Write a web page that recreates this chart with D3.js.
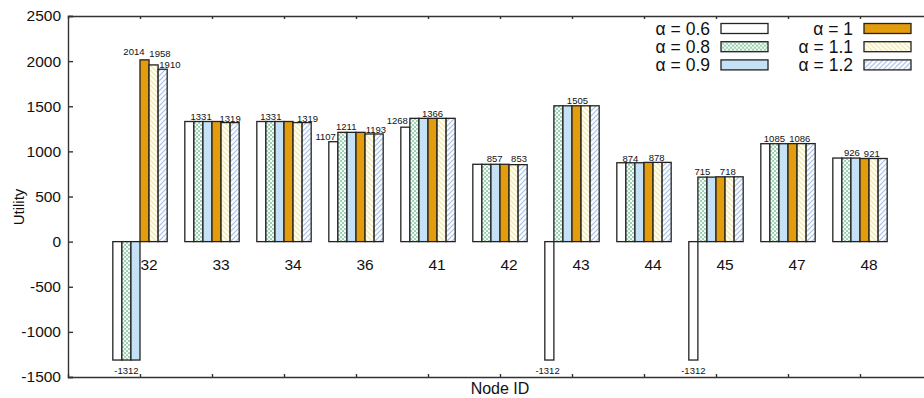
<!DOCTYPE html>
<html>
<head>
<meta charset="utf-8">
<script src="https://cdn.jsdelivr.net/npm/d3@7"></script>
<style>
  body { margin: 0; background: #fff; }
  text { font-family: "Liberation Sans", Arial, sans-serif; fill: #111; }
</style>
</head>
<body>
<svg id="chart" width="924" height="398"></svg>
<script>
const nodes = ["32", "33", "34", "36", "41", "42", "43", "44", "45", "47", "48"];
const alphas = ["0.6", "0.8", "0.9", "1", "1.1", "1.2"];

// utility per node, one array per alpha
const a06 = [-1312, 1331, 1331, 1107, 1268, 857, -1312, 874, -1312, 1085, 926];
const a08 = [-1312, 1331, 1331, 1211, 1366, 857, 1505, 874, 715, 1085, 926];
const a09 = [-1312, 1331, 1331, 1211, 1366, 857, 1505, 874, 715, 1085, 926];
const a10 = [2014, 1331, 1331, 1211, 1366, 857, 1505, 878, 718, 1086, 921];
const a11 = [1958, 1319, 1319, 1193, 1366, 853, 1505, 878, 718, 1086, 921];
const a12 = [1910, 1319, 1319, 1193, 1366, 853, 1505, 878, 718, 1086, 921];
const series = [a06, a08, a09, a10, a11, a12];

const yTicks = [-1500, -1000, -500, 0, 500, 1000, 1500, 2000, 2500];

// value labels: node index, bar slot it sits over, value, lift (data units)
const labelNode = [0, 0, 0, 0, 1, 1, 2, 2, 3, 3, 3, 4, 4, 5, 5, 6, 6, 7, 7, 8, 8, 8, 9, 9, 10, 10];
const labelSlot = [1, 1.83, 4.7, 5.8, 1.3, 4.5, 1.05, 5.1, -0.85, 1.42, 4.7, -0.9, 3.0, 1.9, 4.6, -0.2, 3.1, 1.0, 3.9, 0, 1.0, 3.8, 1.0, 3.8, 1.6, 3.8];
const labelValue = [-1312, 2014, 1958, 1910, 1331, 1319, 1331, 1319, 1107, 1211, 1193, 1268, 1366, 857, 853, -1312, 1505, 874, 878, -1312, 715, 718, 1085, 1086, 926, 921];
const labelLift = [-155, 53, 92, 14, 13, 7, 13, 7, 23, 30, 15, 40, 15, 24, 28, -155, 25, 7, 13, -155, 18, 15, 20, 20, 20, 20];

const width = 924, height = 398;
const margin = {top: 16, right: -8, bottom: 21, left: 68};

const svg = d3.select("#chart");

// fill patterns
const defs = svg.append("defs");
const p08 = defs.append("pattern").attr("id", "p08").attr("patternUnits", "userSpaceOnUse")
    .attr("width", 4).attr("height", 4);
p08.append("rect").attr("width", 4).attr("height", 4).attr("fill", "#f4faf6");
p08.append("rect").attr("width", 2).attr("height", 2).attr("fill", "#9fd2b4");
p08.append("rect").attr("x", 2).attr("y", 2).attr("width", 2).attr("height", 2).attr("fill", "#9fd2b4");

const p11 = defs.append("pattern").attr("id", "p11").attr("patternUnits", "userSpaceOnUse")
    .attr("width", 5).attr("height", 5);
p11.append("rect").attr("width", 5).attr("height", 5).attr("fill", "#fffef4");
p11.append("path").attr("d", "M-1,-1L6,6M-1,4L1,6M4,-1L6,1").attr("stroke", "#f1e7a4").attr("stroke-width", 1.2);

const p12 = defs.append("pattern").attr("id", "p12").attr("patternUnits", "userSpaceOnUse")
    .attr("width", 5).attr("height", 5);
p12.append("rect").attr("width", 5).attr("height", 5).attr("fill", "#fbfcff");
p12.append("path").attr("d", "M-1,6L6,-1M-1,1L1,-1M4,6L6,4").attr("stroke", "#a9c1e6").attr("stroke-width", 1.2);

const fills = ["#ffffff", "url(#p08)", "#c4e1f5", "#e39c0c", "url(#p11)", "url(#p12)"];

const x = d3.scaleLinear()
    .domain([-1, 11])
    .range([margin.left, width - margin.right]);

const y = d3.scaleLinear()
    .domain([-1500, 2500])
    .range([height - margin.bottom, margin.top]);

const groupW = x(0.755) - x(0);
const x1 = d3.scaleBand()
    .domain(d3.range(alphas.length))
    .range([-groupW / 2, groupW / 2]);

// bars
svg.append("g")
    .selectAll("g")
    .data(nodes)
    .join("g")
    .attr("transform", (d, i) => `translate(${x(i)},0)`)
    .selectAll("rect")
    .data((d, i) => series.map((s, k) => ({k, value: s[i]})))
    .join("rect")
    .attr("x", d => x1(d.k))
    .attr("y", d => y(Math.max(0, d.value)))
    .attr("width", x1.bandwidth())
    .attr("height", d => Math.abs(y(d.value) - y(0)))
    .attr("fill", d => fills[d.k])
    .attr("stroke", "#222")
    .attr("stroke-width", 1.3);

// value labels
svg.append("g")
    .selectAll("text")
    .data(labelValue)
    .join("text")
    .attr("x", (d, i) => x(labelNode[i]) + x1(0) + x1.bandwidth() * (labelSlot[i] + 0.5))
    .attr("y", (d, i) => y(d + labelLift[i]))
    .attr("text-anchor", "middle")
    .attr("font-size", 9.5)
    .text(d => d);

// node labels
svg.append("g")
    .selectAll("text")
    .data(nodes)
    .join("text")
    .attr("x", (d, i) => x(i) + 9)
    .attr("y", y(0) + 28)
    .attr("text-anchor", "middle")
    .attr("font-size", 15.5)
    .text(d => d);

// axes
const yAxis = g => g
    .attr("transform", `translate(${margin.left},0)`)
    .call(d3.axisLeft(y).tickValues(yTicks).tickSize(-5).tickPadding(7).tickFormat(d => String(d)))
    .call(g => g.selectAll(".tick text").attr("font-size", 15.5).attr("fill", "#111")
        .attr("font-family", "Liberation Sans, Arial, sans-serif"))
    .call(g => g.selectAll("line, path").attr("stroke", "#333").attr("stroke-width", 1.4));

const xAxis = g => g
    .attr("transform", `translate(0,${height - margin.bottom})`)
    .call(d3.axisBottom(x).tickValues(d3.range(nodes.length)).tickSize(-3).tickFormat(""))
    .call(g => g.selectAll("line, path").attr("stroke", "#333").attr("stroke-width", 1.4));

const xTop = g => g
    .attr("transform", `translate(0,${margin.top})`)
    .call(d3.axisTop(x).tickValues(d3.range(nodes.length)).tickSize(-3).tickFormat(""))
    .call(g => g.selectAll("line, path").attr("stroke", "#333").attr("stroke-width", 1.4));

svg.append("g").call(xAxis);
svg.append("g").call(xTop);
svg.append("g").call(yAxis);

svg.append("text")
    .attr("transform", `translate(24,207) rotate(-90)`)
    .attr("text-anchor", "middle")
    .attr("font-size", 15)
    .text("Utility");

svg.append("text")
    .attr("x", 500)
    .attr("y", 394)
    .attr("text-anchor", "middle")
    .attr("font-size", 16)
    .text("Node ID");

// legend
const legend = svg.append("g");
const legItems = legend.selectAll("g")
    .data(alphas)
    .join("g")
    .attr("transform", (d, i) => `translate(${i < 3 ? 710 : 853},${28.5 + (i % 3) * 18.2})`);
legItems.append("text")
    .attr("text-anchor", "end")
    .attr("dy", "0.36em")
    .attr("font-size", 17.5)
    .text(d => `α = ${d}`);
legItems.append("rect")
    .attr("x", 11)
    .attr("y", -5)
    .attr("width", 47)
    .attr("height", 10)
    .attr("fill", (d, i) => fills[i])
    .attr("stroke", "#222")
    .attr("stroke-width", 1.3);
</script>
</body>
</html>
